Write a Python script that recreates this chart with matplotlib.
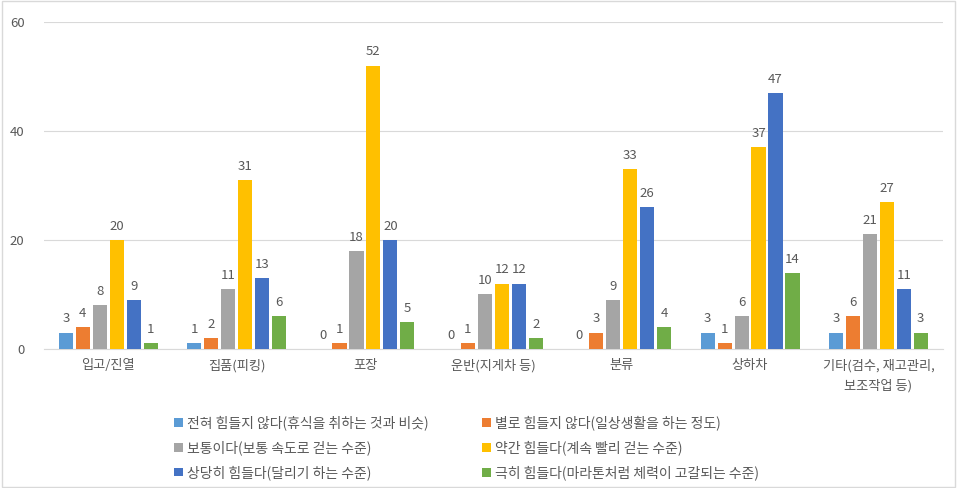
import numpy as np
import matplotlib.pyplot as plt
from matplotlib.patches import Rectangle

plt.rcParams['font.family'] = ['Noto Sans CJK KR', 'DejaVu Sans']

categories = ['입고/진열', '집품(피킹)', '포장', '운반(지게차 등)', '분류', '상하차',
              '기타(검수, 재고관리,\n보조작업 등)']
series_names = ['전혀 힘들지 않다(휴식을 취하는 것과 비슷)',
                '별로 힘들지 않다(일상생활을 하는 정도)',
                '보통이다(보통 속도로 걷는 수준)',
                '약간 힘들다(계속 빨리 걷는 수준)',
                '상당히 힘들다(달리기 하는 수준)',
                '극히 힘들다(마라톤처럼 체력이 고갈되는 수준)']
not_hard = [3, 1, 0, 0, 0, 3, 3]
slightly_easy = [4, 2, 1, 1, 3, 1, 6]
normal = [8, 11, 18, 10, 9, 6, 21]
somewhat_hard = [20, 31, 52, 12, 33, 37, 27]
quite_hard = [9, 13, 20, 12, 26, 47, 11]
extremely_hard = [1, 6, 5, 2, 4, 14, 3]

series = [not_hard, slightly_easy, normal, somewhat_hard, quite_hard, extremely_hard]
colors = ['#5B9BD5', '#ED7D31', '#A5A5A5', '#FFC000', '#4472C4', '#70AD47']
text_color = '#595959'

fig = plt.figure(figsize=(9.57, 4.88), dpi=100)
ax = fig.add_axes([0.046, 0.285, 0.939, 0.67])

x = np.arange(len(categories))
step = 0.132
width = 0.11
handles = []
for i, (vals, c) in enumerate(zip(series, colors)):
    pos = x + (i - 2.5) * step
    bars = ax.bar(pos, vals, width, color=c, label=series_names[i], zorder=3)
    handles.append(bars)
    for p, v in zip(pos, vals):
        ax.text(p, v + 1.3, str(v), ha='center', va='bottom', fontsize=9.5, color=text_color)

ax.set_xlim(-0.5, len(categories) - 0.5)
ax.set_ylim(0, 60)
ax.set_yticks([0, 20, 40, 60])
ax.grid(axis='y', color='#D9D9D9', linewidth=0.8, zorder=0)
for s in ['top', 'right', 'left']:
    ax.spines[s].set_visible(False)
ax.spines['bottom'].set_color('#D9D9D9')
ax.tick_params(axis='both', length=0, colors=text_color, labelsize=9.5)
ax.tick_params(axis='y', pad=14)
ax.tick_params(axis='x', pad=7)
ax.set_xticks(x)
ax.set_xticklabels(categories, linespacing=1.7)

# legend rows go left to right, so reorder for column-wise filling
order = [0, 2, 4, 1, 3, 5]
leg = fig.legend([handles[k] for k in order], [series_names[k] for k in order],
                 ncol=2, loc='upper left', bbox_to_anchor=(0.182, 0.149),
                 frameon=False, fontsize=10, handlelength=0.6, handleheight=0.6,
                 handletextpad=0.3, columnspacing=3.9, labelspacing=0.72,
                 borderaxespad=0, borderpad=0)
for t in leg.get_texts():
    t.set_color(text_color)

fig.patches.append(Rectangle((0.002, 0.002), 0.996, 0.996, transform=fig.transFigure,
                             fill=False, edgecolor='#D9D9D9', linewidth=1))

fig.savefig('out.png', dpi=100)
